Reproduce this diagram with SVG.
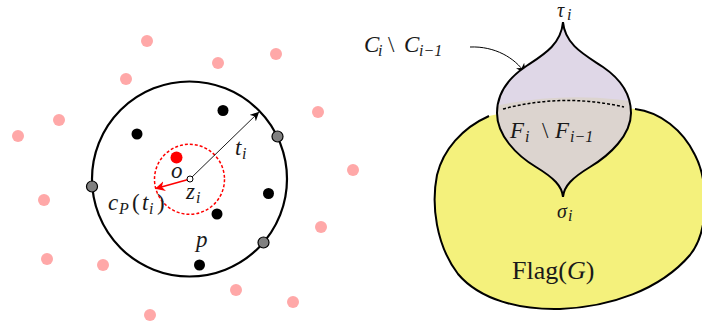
<svg xmlns="http://www.w3.org/2000/svg" width="702" height="327" viewBox="0 0 702 327">
<style>
.pink{fill:#ffa8a8}
.blk{fill:#000}
.gray{fill:#808080;stroke:#000;stroke-width:1.2}
.m{font-family:"Liberation Serif",serif;font-style:italic;font-size:23px;fill:#1a1a1a}
.r{font-family:"Liberation Serif",serif;font-style:normal;font-size:23px;fill:#1a1a1a}
.sub{font-size:16px}
</style>
<defs>
<marker id="ab" viewBox="0 0 10 10" refX="9" refY="5" markerWidth="9" markerHeight="9" markerUnits="userSpaceOnUse" orient="auto">
<path d="M0,0 L10,5 L0,10 L3,5 Z" fill="#000"/>
</marker>
<marker id="ar" viewBox="0 0 10 10" refX="9" refY="5" markerWidth="10" markerHeight="10" markerUnits="userSpaceOnUse" orient="auto">
<path d="M0,0 L10,5 L0,10 L3,5 Z" fill="#f00"/>
</marker>
<marker id="ab2" viewBox="0 0 10 10" refX="9" refY="5" markerWidth="10" markerHeight="10" markerUnits="userSpaceOnUse" orient="auto">
<path d="M0,0 L10,5 L0,10 L3,5 Z" fill="#000"/>
</marker>
<clipPath id="upper"><path d="M470,0 H660 V106 Q563,86 470,112 Z"/></clipPath>
<path id="tear" d="M563,22 C565,45 585,55 603,67 C622,80 631,95 631,113 C631,135 610,155 590,167 C572,178 564,186 563,197 C562,186 554,178 536,167 C516,155 497,135 497,113 C497,95 506,80 525,67 C543,55 561,45 563,22 Z"/>
</defs>

<g id="outside-points">
<circle class="pink" cx="147" cy="41" r="6"/>
<circle class="pink" cx="276" cy="54" r="6"/>
<circle class="pink" cx="218" cy="63" r="6"/>
<circle class="pink" cx="126" cy="79" r="6"/>
<circle class="pink" cx="59" cy="120" r="6"/>
<circle class="pink" cx="18" cy="136" r="6"/>
<circle class="pink" cx="318" cy="112" r="6"/>
<circle class="pink" cx="353" cy="170" r="6"/>
<circle class="pink" cx="44" cy="200" r="6"/>
<circle class="pink" cx="321" cy="227" r="6"/>
<circle class="pink" cx="47" cy="259" r="6"/>
<circle class="pink" cx="103" cy="265" r="6"/>
<circle class="pink" cx="236" cy="290" r="6"/>
<circle class="pink" cx="293" cy="302" r="6"/>
<circle class="pink" cx="150" cy="315" r="6"/>
</g>

<g id="big-circle">
<circle cx="189.5" cy="179" r="97.5" fill="none" stroke="#000" stroke-width="2.2"/>
</g>

<g id="red-circle">
<circle cx="189.5" cy="179.3" r="35" fill="none" stroke="#f00" stroke-width="1.5" stroke-dasharray="3,2"/>
</g>

<g id="inside-points">
<circle class="blk" cx="223" cy="110.5" r="5.5"/>
<circle class="blk" cx="137" cy="134" r="5.5"/>
<circle class="blk" cx="268.5" cy="193.5" r="5.5"/>
<circle class="blk" cx="217" cy="214" r="5.5"/>
<circle class="blk" cx="199.5" cy="265" r="5.5"/>
<circle cx="176.5" cy="157.5" r="6" fill="#f00"/>
</g>

<g id="boundary-points">
<circle class="gray" cx="277.5" cy="136.5" r="5.5"/>
<circle class="gray" cx="92" cy="186.5" r="5.5"/>
<circle class="gray" cx="263.5" cy="242.5" r="5.5"/>
</g>

<g id="connectors">
<line x1="190" y1="179" x2="258.5" y2="112.5" stroke="#000" stroke-width="0.9" marker-end="url(#ab)"/>
<line x1="190" y1="179" x2="156" y2="188.5" stroke="#f00" stroke-width="1.6" marker-end="url(#ar)"/>
<path d="M470,47 C495,46 515,58 525,73" fill="none" stroke="#000" stroke-width="1" marker-end="url(#ab2)"/>
</g>

<g id="center">
<circle cx="190" cy="179" r="3" fill="#fff" stroke="#000" stroke-width="1"/>
</g>

<g id="left-labels">
<text class="m" x="235" y="155">t<tspan class="sub" x="242" y="159">i</tspan></text>
<text class="m" x="171" y="178">o</text>
<text class="m" x="186" y="199">z<tspan class="sub" x="196" y="203">i</tspan></text>
<text class="m" x="108" y="210">c<tspan class="sub" x="119" y="214">P</tspan><tspan class="r" x="132" y="210">(</tspan><tspan x="142" y="210">t</tspan><tspan class="sub" x="149" y="214">i</tspan><tspan class="r" x="157" y="210">)</tspan></text>
<text class="m" x="196" y="247">p</text>
</g>

<g id="flag">
<path d="M489,116 L563,100 L635,109 C660,112 683,130 695,155 C708,180 710,230 690,255 C660,290 610,307 560,309 C520,310 480,300 458,274 C436,245 431,205 437,175 C443,150 462,128 489,116 Z" fill="#f4f17c"/>
<path d="M489,116 C462,128 443,150 437,175 C431,205 436,245 458,274 C480,300 520,310 560,309 C610,307 660,290 690,255 C710,230 708,180 695,155 C683,130 660,112 635,109" fill="none" stroke="#000" stroke-width="2"/>
<text class="r" x="512" y="279" style="font-size:26px">Flag(<tspan class="m" style="font-size:26px">G</tspan>)</text>
</g>

<g id="teardrop">
<use href="#tear" fill="#dcd4cf"/>
<use href="#tear" fill="#dfd7e7" clip-path="url(#upper)"/>
<path d="M503,109 Q563,93 624,107" fill="none" stroke="#000" stroke-width="1.5" stroke-dasharray="3,2"/>
<use href="#tear" fill="none" stroke="#000" stroke-width="2"/>
<text class="m" x="510" y="138">F<tspan class="sub" x="525" y="142">i</tspan><tspan class="r" x="542" y="138">\</tspan><tspan x="555" y="138">F</tspan><tspan class="sub" x="570" y="142">i−1</tspan></text>
</g>

<g id="right-labels">
<text class="m" x="557" y="17" style="font-size:20px">τ<tspan class="sub" x="567" y="20">i</tspan></text>
<text class="m" x="557" y="218" style="font-size:20px">σ<tspan class="sub" x="568" y="221">i</tspan></text>
<text class="m" x="364" y="52">C<tspan class="sub" x="378" y="56">i</tspan><tspan class="r" x="388" y="52">\</tspan><tspan x="404" y="52">C</tspan><tspan class="sub" x="419" y="56">i−1</tspan></text>
</g>
</svg>
